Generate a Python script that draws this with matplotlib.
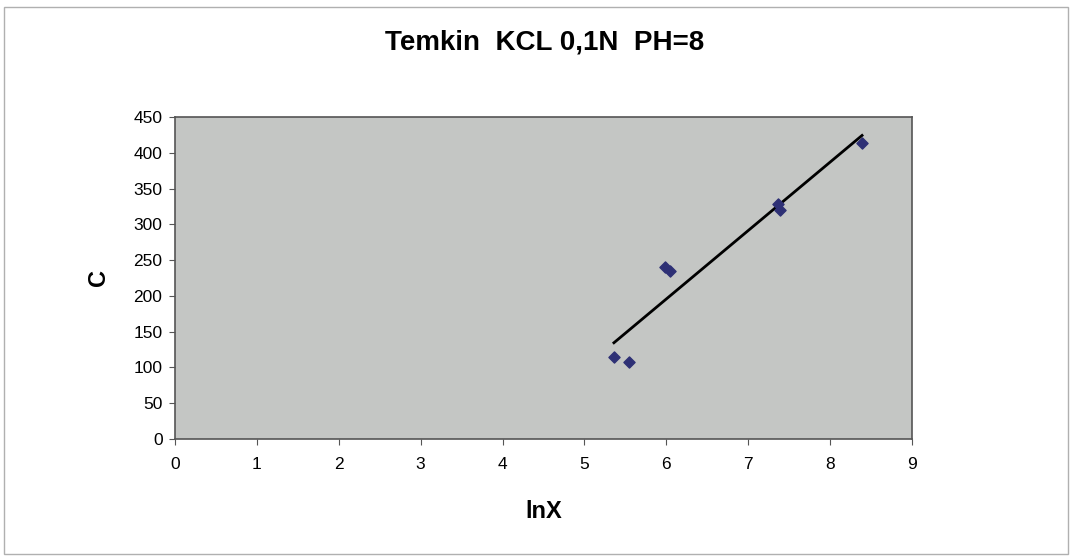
import matplotlib
matplotlib.use("Agg")
import matplotlib.pyplot as plt
import numpy as np
from matplotlib.patches import Rectangle

plt.rcParams['font.family'] = ['Liberation Sans', 'DejaVu Sans']

title = "Temkin  KCL 0,1N  PH=8"
x_label = "lnX"
y_label = "C"
lnx = [5.36, 5.55, 5.98, 6.05, 7.36, 7.39, 8.39]
c_vals = [115, 108, 240, 235, 328, 320, 414]
x_ticks = list(range(0, 10))
y_ticks = list(range(0, 451, 50))

fig = plt.figure(figsize=(10.75, 5.6), dpi=100)
W, H = 1075, 560
ax = fig.add_axes([175 / W, 1 - 439 / H, (912 - 175) / W, (439 - 117) / H])
ax.set_facecolor('#c4c6c4')

ax.scatter(lnx, c_vals, marker='D', s=32, color='#2e3075', zorder=3)
k, b = np.polyfit(lnx, c_vals, 1)
xs = np.array([min(lnx), max(lnx)])
ax.plot(xs, k * xs + b, color='black', lw=2, zorder=2)

ax.set_xlim(0, 9)
ax.set_ylim(0, 450)
ax.set_xticks(x_ticks)
ax.set_yticks(y_ticks)
ax.tick_params(labelsize=12.5, length=4, direction='out', color='#555555')
ax.tick_params(axis='y', pad=5)
ax.tick_params(axis='x', pad=9)
for s in ax.spines.values():
    s.set_color('#555555')
    s.set_linewidth(1.2)

ax.set_xlabel(x_label, fontsize=17, fontweight='bold', labelpad=20)
ax.set_ylabel(y_label, fontsize=17, fontweight='bold', labelpad=17)
fig.text(545 / W, 1 - 43 / H, title, fontsize=20, fontweight='bold', ha='center', va='center')

fig.patches.append(Rectangle((4 / W, 6 / H), (1068 - 4) / W, (553 - 6) / H,
                             transform=fig.transFigure, fill=False, edgecolor='#b0b0b0', lw=1))

fig.savefig('out.png', dpi=100, facecolor='white')
